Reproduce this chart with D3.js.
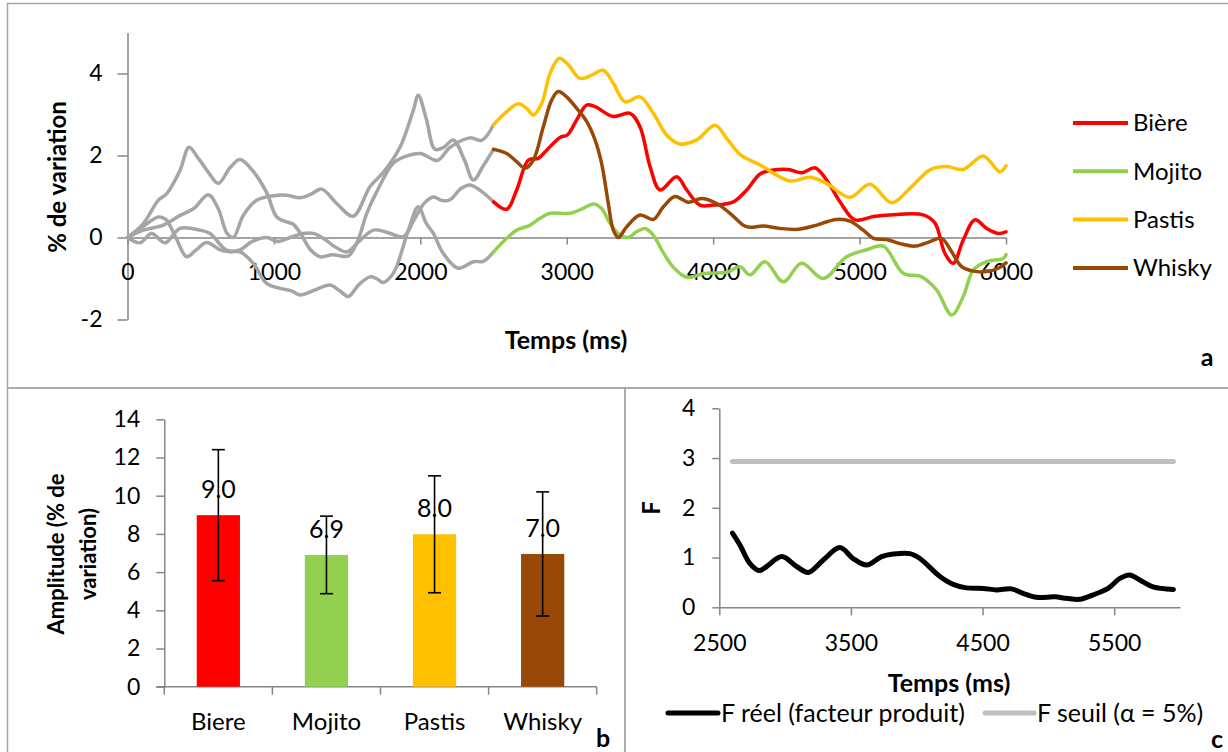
<!DOCTYPE html>
<html><head><meta charset="utf-8">
<script src="https://cdn.jsdelivr.net/npm/d3@7"></script>
<style>
html,body{margin:0;padding:0;background:#fff;}
svg{display:block;font-family:Lato,"Open Sans",sans-serif;}
.axis path,.axis line{stroke:#868686;stroke-width:1.5px;}
.axis text{fill:#000;font-size:23px;font-family:Lato,sans-serif;}
</style></head>
<body>
<svg id="c" width="1228" height="752"></svg>
<script>
// ---------- Panel a : % de variation over time ----------
const seriesNames = ["Bière","Mojito","Pastis","Whisky"];
const seriesColors = ["#ff0000","#92d050","#ffc000","#984807"];
const splitTime = 2500;
const biere = [[0,0],[85,-0.13],[165,0.1],[256,-0.13],[358,0.22],[495,0.18],[564,0.1],[677,-0.31],[768,-0.3],[850,-0.1],[950,0.0],[1030,-0.1],[1110,0.0],[1200,0.1],[1270,0.1],[1350,-0.05],[1406,-0.2],[1497,-0.35],[1580,-0.1],[1679,0.18],[1770,0.13],[1884,0.02],[1960,0.45],[2030,0.85],[2089,0.99],[2150,0.9],[2202,0.92],[2280,1.2],[2339,1.28],[2420,1.12],[2500,0.87],
 [2590,0.69],[2658,1.16],[2738,1.89],[2806,1.93],[2863,2.13],[2954,2.44],[3004,2.5],[3068,2.87],[3136,3.23],[3193,3.19],[3318,2.95],[3432,3.03],[3500,2.70],[3569,1.73],[3637,1.16],[3751,1.48],[3819,1.16],[3910,0.79],[4001,0.79],[4138,0.87],[4229,1.16],[4320,1.55],[4400,1.64],[4513,1.66],[4604,1.58],[4695,1.70],[4775,1.40],[4866,0.87],[4968,0.43],[5094,0.51],[5207,0.55],[5435,0.55],[5515,0.35],[5583,-0.39],[5640,-0.63],[5708,-0.06],[5788,0.43],[5868,0.22],[5947,0.10],[6000,0.14]];
const mojito = [[0,0],[100,0.25],[211,0.5],[260,0.45],[330,0.0],[404,-0.47],[470,-0.3],[541,-0.12],[632,-0.3],[700,-0.35],[768,-0.35],[859,-0.63],[950,-1.12],[1041,-1.24],[1120,-1.3],[1178,-1.40],[1280,-1.28],[1383,-1.16],[1450,-1.3],[1508,-1.44],[1580,-1.15],[1656,-0.96],[1700,-1.0],[1747,-1.1],[1800,-0.95],[1838,-0.71],[1920,0.2],[1986,0.75],[2040,0.35],[2089,0.10],[2157,-0.39],[2259,-0.75],[2362,-0.59],[2430,-0.58],[2500,-0.35],
 [2590,-0.02],[2658,0.18],[2749,0.30],[2817,0.47],[2886,0.59],[3022,0.59],[3113,0.71],[3181,0.82],[3238,0.71],[3295,0.35],[3364,0.06],[3420,0.0],[3477,0.14],[3534,0.22],[3591,0.06],[3648,-0.30],[3724,-0.71],[3818,-0.97],[3936,-0.88],[4100,-0.84],[4183,-0.71],[4251,-0.91],[4354,-0.59],[4479,-1.08],[4604,-0.63],[4752,-1.0],[4911,-0.47],[5048,-0.30],[5162,-0.21],[5298,-0.87],[5424,-0.96],[5526,-1.28],[5629,-1.89],[5708,-1.44],[5777,-0.79],[5868,-0.59],[5981,-0.51],[6000,-0.42]];
const pastis = [[0,0],[108,0.34],[211,0.91],[268,1.07],[359,1.64],[420,2.2],[480,1.95],[550,1.6],[620,1.32],[700,1.7],[768,1.9],[850,1.65],[950,1.1],[1019,0.5],[1087,0.38],[1130,0.33],[1178,0.12],[1250,-0.3],[1315,-0.47],[1400,-0.42],[1508,-0.45],[1570,-0.1],[1634,0.59],[1700,1.1],[1815,1.81],[1900,1.98],[2000,2.05],[2117,1.88],[2203,2.2],[2339,2.43],[2420,2.37],[2500,2.75],
 [2590,3.07],[2669,3.26],[2726,3.15],[2772,2.99],[2829,3.27],[2886,4.0],[2949,4.37],[3011,4.21],[3090,3.88],[3170,3.96],[3250,4.08],[3318,3.76],[3398,3.31],[3500,3.43],[3591,3.03],[3682,2.50],[3773,2.28],[3887,2.38],[4013,2.74],[4092,2.42],[4183,2.03],[4320,1.77],[4525,1.38],[4661,1.47],[4775,1.32],[4934,0.98],[5071,1.30],[5219,0.85],[5344,1.20],[5481,1.65],[5594,1.73],[5708,1.66],[5845,1.99],[5959,1.60],[6000,1.75]];
const whisky = [[0,0],[108,0.18],[245,0.3],[359,0.54],[450,0.7],[552,1.04],[620,0.7],[680,0.1],[723,0.0],[791,0.54],[882,0.91],[1000,1.02],[1087,1.03],[1178,0.97],[1250,1.05],[1326,1.18],[1429,0.83],[1542,0.52],[1656,1.24],[1750,1.6],[1861,2.2],[1952,3.1],[1986,3.47],[2040,2.9],[2100,2.15],[2160,2.2],[2225,2.38],[2300,1.9],[2362,1.40],[2430,1.75],[2500,2.15],
 [2590,2.05],[2658,1.85],[2715,1.69],[2772,1.89],[2840,2.70],[2897,3.35],[2942,3.56],[2999,3.43],[3068,3.15],[3136,2.83],[3193,2.38],[3238,1.81],[3284,0.83],[3318,0.18],[3352,0.0],[3409,0.26],[3500,0.55],[3591,0.44],[3660,0.75],[3739,1.0],[3830,0.86],[3921,0.95],[4024,0.83],[4115,0.59],[4206,0.30],[4251,0.25],[4342,0.28],[4456,0.22],[4581,0.20],[4684,0.28],[4843,0.44],[4934,0.40],[5025,0.18],[5094,-0.02],[5185,-0.05],[5276,-0.15],[5378,-0.21],[5481,-0.10],[5560,-0.02],[5629,-0.35],[5697,-0.71],[5777,-0.82],[5868,-0.83],[5947,-0.75],[6000,-0.62]];
const xTicksA = [0,1000,2000,3000,4000,5000,6000];
const yTicksA = [-2,0,2,4];

// ---------- Panel b : amplitude bars ----------
const barCategories = ["Biere","Mojito","Pastis","Whisky"];
const barValues = [8.98,6.9,7.98,6.95];
const barErrors = [3.43,2.03,3.06,3.25];
const barLabels = ["9.0","6.9","8.0","7.0"];
const yTicksB = [0,2,4,6,8,10,12,14];

// ---------- Panel c : F statistic ----------
const fTimes = [2600,2657,2733,2804,2860,2974,3088,3176,3290,3416,3517,3619,3733,3821,3948,4024,4176,4277,4378,4505,4606,4720,4808,4910,5049,5138,5239,5340,5454,5543,5618,5694,5795,5950];
const fReel = [1.49,1.25,0.88,0.74,0.82,1.02,0.82,0.70,0.95,1.20,0.98,0.85,1.02,1.07,1.08,0.98,0.62,0.46,0.39,0.38,0.35,0.37,0.28,0.20,0.21,0.18,0.16,0.25,0.38,0.58,0.65,0.55,0.41,0.36];
const fSeuil = 2.93;
const xTicksC = [2500,3500,4500,5500];
const yTicksC = [0,1,2,3,4];
const legendC = ["F réel (facteur produit)","F seuil (α = 5%)"];

const plain = d => String(d);
const svg = d3.select("#c");
svg.append("rect").attr("width",1228).attr("height",752).attr("fill","#fff");

// panel frames
function rect(x,y,w,h){svg.append("rect").attr("x",x).attr("y",y).attr("width",w).attr("height",h)
  .attr("stroke","#a6a6a6").attr("stroke-width",1.5).attr("fill","none");}
rect(7.5,3.5,1222,384.5);
rect(7.5,388,617.5,370);
rect(625,388,610,370);

// ===== Panel a =====
const xA = d3.scaleLinear().domain([0,6000]).range([127.5,1006]);
const yA = d3.scaleLinear().domain([-2,5]).range([319.5,32.5]);
const gA = svg.append("g");
gA.append("g").attr("class","axis").attr("transform","translate(127.5,0)")
  .call(d3.axisLeft(yA).tickValues(yTicksA).tickSize(10).tickSizeOuter(0).tickPadding(15).tickFormat(plain));
gA.append("g").attr("class","axis").attr("transform",`translate(0,${yA(0)})`)
  .call(d3.axisBottom(xA).tickValues(xTicksA).tickSize(7).tickSizeOuter(0).tickPadding(19).tickFormat(plain));

const lineA = d3.line().x(d=>xA(d[0])).y(d=>yA(d[1])).curve(d3.curveCatmullRom.alpha(0.5));
const allSeries = [biere,mojito,pastis,whisky];
allSeries.forEach(s=>{
  gA.append("path").attr("d",lineA(s.filter(d=>d[0]<=splitTime)))
    .attr("fill","none").attr("stroke","#a5a5a5").attr("stroke-width",3.5).attr("stroke-linecap","round");
});
allSeries.forEach((s,i)=>{
  gA.append("path").attr("d",lineA(s.filter(d=>d[0]>=splitTime)))
    .attr("fill","none").attr("stroke",seriesColors[i]).attr("stroke-width",3.5).attr("stroke-linecap","round");
});
gA.append("text").attr("transform","translate(66,177) rotate(-90)").attr("text-anchor","middle")
  .attr("font-weight","bold").attr("font-size",24).text("% de variation");
gA.append("text").attr("x",566).attr("y",349).attr("text-anchor","middle")
  .attr("font-weight","bold").attr("font-size",25).text("Temps (ms)");
const legA = gA.append("g");
seriesNames.forEach((n,i)=>{
  const y = 123 + i*48.3;
  legA.append("line").attr("x1",1073).attr("x2",1128).attr("y1",y).attr("y2",y).attr("stroke",seriesColors[i]).attr("stroke-width",4);
  legA.append("text").attr("x",1133).attr("y",y).attr("dy","0.35em").attr("font-size",24).text(n);
});
gA.append("text").attr("x",1207).attr("y",366).attr("text-anchor","middle").attr("font-weight","bold").attr("font-size",25).text("a");

// ===== Panel b =====
const xB = d3.scaleBand().domain(barCategories).range([164.3,596.7]).paddingInner(0.6).paddingOuter(0.3);
const yB = d3.scaleLinear().domain([0,14]).range([686.7,419.3]);
const gB = svg.append("g");
gB.append("g").attr("class","axis").attr("transform","translate(164.3,0)")
  .call(d3.axisLeft(yB).tickValues(yTicksB).tickSize(8).tickSizeOuter(0).tickPadding(16).tickFormat(plain));
const xAxisB = gB.append("g").attr("class","axis").attr("transform","translate(0,686.7)")
  .call(d3.axisBottom(xB).tickSize(0).tickSizeOuter(0).tickPadding(26));
xAxisB.select(".domain").remove();
xAxisB.selectAll("text").style("font-size","24px");
const stepB = xB.step();
const bounds = d3.range(barCategories.length+1).map(i=>xB.range()[0]+i*stepB);
xAxisB.append("line").attr("x1",156.3).attr("x2",bounds[bounds.length-1]).attr("y1",0).attr("y2",0).attr("stroke","#868686").attr("stroke-width",1.5);
bounds.forEach(b=>xAxisB.append("line").attr("x1",b).attr("x2",b).attr("y1",0).attr("y2",8).attr("stroke","#868686").attr("stroke-width",1.5));
barCategories.forEach((c,i)=>{
  const cx = xB(c)+xB.bandwidth()/2;
  gB.append("rect").attr("x",xB(c)).attr("width",xB.bandwidth()).attr("y",yB(barValues[i])).attr("height",yB(0)-yB(barValues[i])).attr("fill",seriesColors[i]);
  gB.append("text").attr("x",cx).attr("y",yB(barValues[i])-26).attr("dy","0.35em").attr("text-anchor","middle").attr("font-size",25).text(barLabels[i]);
  const hi=yB(barValues[i]+barErrors[i]), lo=yB(barValues[i]-barErrors[i]);
  gB.append("line").attr("x1",cx).attr("x2",cx).attr("y1",hi).attr("y2",lo).attr("stroke","#000").attr("stroke-width",1.6);
  [hi,lo].forEach(yy=>gB.append("line").attr("x1",cx-6.5).attr("x2",cx+6.5).attr("y1",yy).attr("y2",yy).attr("stroke","#000").attr("stroke-width",1.6));
});
const yTitleB = gB.append("text").attr("transform","translate(0,554) rotate(-90)").attr("text-anchor","middle").attr("font-weight","bold").attr("font-size",22);
yTitleB.append("tspan").attr("x",0).attr("y",64).text("Amplitude (% de");
yTitleB.append("tspan").attr("x",0).attr("y",96).text("variation)");
gB.append("text").attr("x",603).attr("y",747).attr("text-anchor","middle").attr("font-weight","bold").attr("font-size",25).text("b");

// ===== Panel c =====
const xC = d3.scaleLinear().domain([2500,6000]).range([719.3,1180]);
const yC = d3.scaleLinear().domain([0,4]).range([607.3,408.3]);
const gC = svg.append("g");
gC.append("g").attr("class","axis").attr("transform","translate(719.3,0)")
  .call(d3.axisLeft(yC).tickValues(yTicksC).tickSize(7).tickSizeOuter(0).tickPadding(17).tickFormat(plain));
gC.append("g").attr("class","axis").attr("transform","translate(0,607.3)")
  .call(d3.axisBottom(xC).tickValues(xTicksC).tickSize(8).tickSizeOuter(0).tickPadding(19).tickFormat(plain));
const fExtent = d3.extent(fTimes);
gC.append("path").attr("d",d3.line()([[xC(fExtent[0]),yC(fSeuil)],[xC(fExtent[1]),yC(fSeuil)]]))
  .attr("stroke","#bfbfbf").attr("stroke-width",5).attr("stroke-linecap","round").attr("fill","none");
gC.append("path").attr("d",d3.line().x((d,i)=>xC(fTimes[i])).y(d=>yC(d)).curve(d3.curveCatmullRom.alpha(0.5))(fReel))
  .attr("stroke","#000").attr("stroke-width",5).attr("stroke-linecap","round").attr("fill","none");
gC.append("text").attr("transform","translate(660,508) rotate(-90)").attr("text-anchor","middle").attr("font-weight","bold").attr("font-size",24).text("F");
gC.append("text").attr("x",949).attr("y",692).attr("text-anchor","middle").attr("font-weight","bold").attr("font-size",25).text("Temps (ms)");
gC.append("line").attr("x1",668).attr("x2",718).attr("y1",713).attr("y2",713).attr("stroke","#000").attr("stroke-width",5).attr("stroke-linecap","round");
gC.append("text").attr("x",721).attr("y",713).attr("dy","0.35em").attr("font-size",25).text(legendC[0]);
gC.append("line").attr("x1",985).attr("x2",1034).attr("y1",713).attr("y2",713).attr("stroke","#bfbfbf").attr("stroke-width",5).attr("stroke-linecap","round");
gC.append("text").attr("x",1037).attr("y",713).attr("dy","0.35em").attr("font-size",25).text(legendC[1]);
gC.append("text").attr("x",1217).attr("y",748).attr("text-anchor","middle").attr("font-weight","bold").attr("font-size",25).text("c");
</script>
</body></html>
